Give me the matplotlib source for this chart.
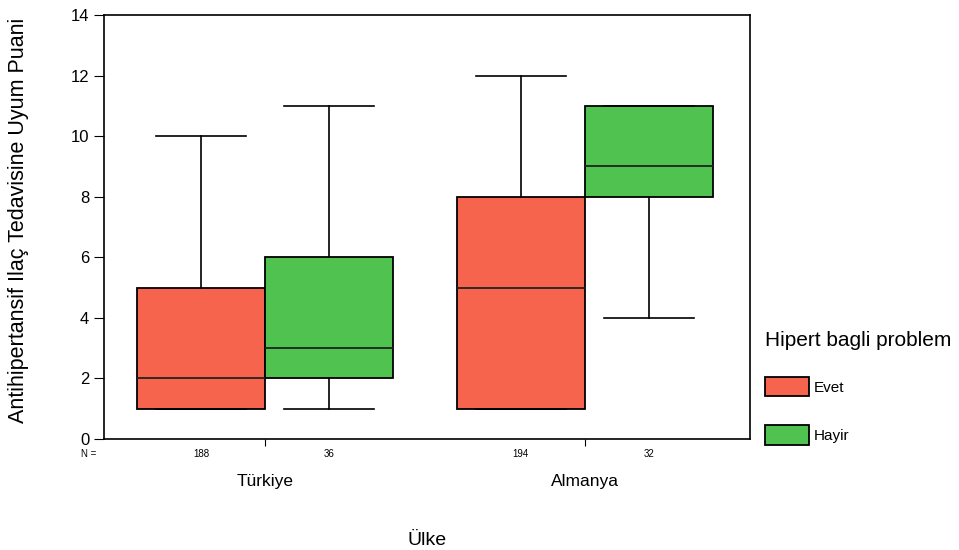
import matplotlib
matplotlib.use("Agg")
import matplotlib.pyplot as plt
from matplotlib.patches import Patch
from matplotlib.transforms import blended_transform_factory

plt.rcParams['font.family'] = ['Liberation Sans', 'DejaVu Sans']

countries = ["Türkiye", "Almanya"]
groups = ["Evet", "Hayir"]
colors = ["#f7644e", "#4fc24f"]
# stats per country per group: (whislo, q1, med, q3, whishi)
stats = {
    "Türkiye": {"Evet": (1, 1, 2, 5, 10), "Hayir": (1, 2, 3, 6, 11)},
    "Almanya": {"Evet": (1, 1, 5, 8, 12), "Hayir": (4, 8, 9, 11, 11)},
}
counts = {
    "Türkiye": {"Evet": 188, "Hayir": 36},
    "Almanya": {"Evet": 194, "Hayir": 32},
}
legend_title = "Hipert bagli problem"
ylabel = "Antihipertansif Ilaç Tedavisine Uyum Puani"
xlabel = "Ülke"

fig = plt.figure(figsize=(9.59, 5.5), dpi=100)
ax = fig.add_axes([0.1084, 0.2018, 0.6736, 0.7709])

offsets = [-0.2, 0.2]
width = 0.4
trans = blended_transform_factory(ax.transData, ax.transAxes)
for i, c in enumerate(countries):
    for j, g in enumerate(groups):
        wl, q1, med, q3, wh = stats[c][g]
        st = [dict(whislo=wl, q1=q1, med=med, q3=q3, whishi=wh, fliers=[], label=g)]
        pos = i + offsets[j]
        ax.bxp(st, positions=[pos], widths=width, patch_artist=True,
               showfliers=False, manage_ticks=False,
               boxprops=dict(facecolor=colors[j], edgecolor='black', linewidth=1.3),
               medianprops=dict(color='#222222', linewidth=1.3),
               whiskerprops=dict(color='black', linewidth=1.2),
               capprops=dict(color='black', linewidth=1.2),
               capwidths=0.28)
        ax.text(pos, -0.035, str(counts[c][g]), transform=trans, ha='center', va='center', fontsize=7)

ax.text(-0.55, -0.035, "N =", transform=trans, ha='center', va='center', fontsize=7)

ax.set_xlim(-0.503, 1.516)
ax.set_ylim(0, 14)
ax.set_yticks(range(0, 15, 2))
ax.set_xticks([0, 1])
ax.set_xticklabels(countries, fontsize=12.5)
ax.tick_params(axis='x', length=5, pad=20)
ax.tick_params(axis='y', labelsize=12, length=7)
for s in ax.spines.values():
    s.set_linewidth(1.2)
ax.set_ylabel(ylabel, fontsize=15.5)
ax.yaxis.set_label_coords(-0.116, 0.515)
ax.set_xlabel(xlabel, fontsize=14, labelpad=31)

fig.text(765 / 959, 1 - 340 / 550, legend_title, fontsize=15, ha='left', va='center')
handles = [Patch(facecolor=colors[k], edgecolor='black', linewidth=1.3, label=groups[k]) for k in range(2)]
leg = fig.legend(handles=handles, loc='upper left',
                 bbox_to_anchor=(765 / 959, 1 - 377 / 550), frameon=False, fontsize=11,
                 handlelength=2.9, handleheight=1.58,
                 labelspacing=1.9, handletextpad=0.3, borderaxespad=0, borderpad=0)

fig.savefig("out.png", dpi=100)
